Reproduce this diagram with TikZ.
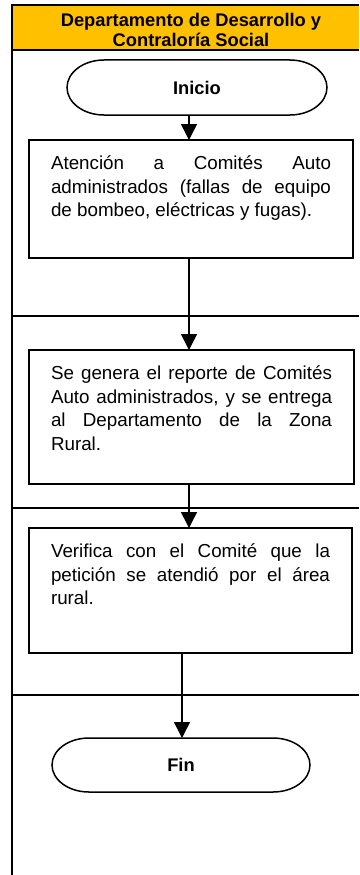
\documentclass[tikz,border=0pt]{standalone}
\usepackage{fontspec}
\setmainfont{Liberation Sans}
\usetikzlibrary{arrows.meta,calc}
\definecolor{hdr}{HTML}{FFC000}
\begin{document}
\begin{tikzpicture}[x=1pt,y=-1pt,
  frameline/.style={line width=2pt},
  procbox/.style={draw, line width=1.8pt, anchor=north west, inner xsep=22pt, inner ysep=0pt, outer sep=0pt,
    font=\fontsize{18.8}{23.5}\selectfont},
  termnode/.style={inner sep=0pt, outer sep=0pt, font=\bfseries\fontsize{18.3}{20}\selectfont},
  termline/.style={line width=1.5pt},
  arr/.style={line width=1.5pt, -{Triangle[length=16pt,width=16pt]}},
  ttext/.style={font=\bfseries\fontsize{18.3}{19.5}\selectfont, align=center, inner sep=0pt}
]
\useasboundingbox (0,0) rectangle (359,875);
% header band
\fill[hdr] (12,5) rectangle (359,50);
\node[ttext] (title) at (191,30) {Departamento de Desarrollo y\\Contraloría Social};
% frame and lane lines
\draw[frameline] (12,875) -- (12,5) -- (359,5);
\draw[frameline] (12,50) -- (359,50);
\draw[frameline] (12,316) -- (359,316);
\draw[frameline] (12,508) -- (359,508);
\draw[frameline] (12,695) -- (359,695);
% start
\node[termnode, minimum width=260pt, minimum height=55pt] (inicio) at (197,87.5) {Inicio};
\draw[termline] ($(inicio.north west)+(37,0)$) -- ($(inicio.north east)+(-37,0)$)
  arc[start angle=90, end angle=-90, x radius=37pt, y radius=27.5pt]
  -- ($(inicio.south west)+(37,0)$)
  arc[start angle=270, end angle=90, x radius=37pt, y radius=27.5pt] -- cycle;
% process boxes
\node[procbox] (b1) at (29,140) {\parbox[t][118pt][t]{280pt}{\rule{0pt}{29.5pt}Atención a Comités Auto\linebreak administrados (fallas de equipo\linebreak de bombeo, eléctricas y fugas).}};
\node[procbox] (b2) at (29,350) {\parbox[t][134pt][t]{281pt}{\rule{0pt}{29.5pt}Se genera el reporte de Comités\linebreak Auto administrados, y se entrega\linebreak al Departamento de la Zona\linebreak Rural.}};
\node[procbox] (b3) at (29,528) {\parbox[t][125pt][t]{279pt}{\rule{0pt}{29.5pt}Verifica con el Comité que la\linebreak petición se atendió por el área\linebreak rural.}};
% end
\node[termnode, minimum width=258pt, minimum height=54pt] (fin) at (181,765) {Fin};
\draw[termline] ($(fin.north west)+(37,0)$) -- ($(fin.north east)+(-37,0)$)
  arc[start angle=90, end angle=-90, x radius=37pt, y radius=27pt]
  -- ($(fin.south west)+(37,0)$)
  arc[start angle=270, end angle=90, x radius=37pt, y radius=27pt] -- cycle;
% connectors
\coordinate (ax) at (189,0);
\coordinate (fx) at (182,0);
\draw[arr] (inicio.south -| ax) -- (b1.north -| ax);
\draw[arr] (b1.south -| ax) -- (b2.north -| ax);
\draw[arr] (b2.south -| ax) -- (b3.north -| ax);
\draw[arr] (b3.south -| fx) -- (fin.north -| fx);
\end{tikzpicture}
\end{document}
